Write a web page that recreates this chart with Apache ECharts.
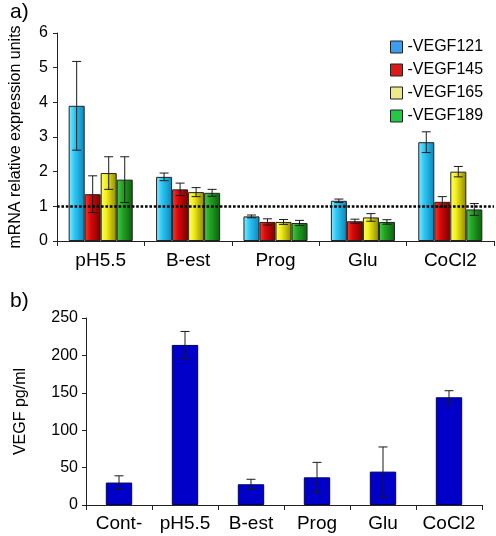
<!DOCTYPE html>
<html>
<head>
<meta charset="utf-8">
<script src="https://cdn.jsdelivr.net/npm/echarts@6/dist/echarts.min.js"></script>
<style>
html,body{margin:0;padding:0;background:#fff;}
#chart{width:496px;height:536px;}
</style>
</head>
<body>
<div id="chart"></div>
<script>
// ---- Panel a data ----
var categoriesA = ['pH5.5', 'B-est', 'Prog', 'Glu', 'CoCl2'];
var seriesNamesA = ['-VEGF121', '-VEGF145', '-VEGF165', '-VEGF189'];
var vegf121 = [3.9, 1.85, 0.71, 1.16, 2.85];
var vegf121Err = [1.28, 0.11, 0.04, 0.05, 0.30];
var vegf145 = [1.35, 1.49, 0.55, 0.57, 1.13];
var vegf145Err = [0.53, 0.18, 0.09, 0.06, 0.15];
var vegf165 = [1.96, 1.41, 0.55, 0.68, 2.0];
var vegf165Err = [0.47, 0.13, 0.07, 0.11, 0.15];
var vegf189 = [1.77, 1.39, 0.52, 0.55, 0.91];
var vegf189Err = [0.66, 0.10, 0.075, 0.065, 0.17];
var yTicksA = [0, 1, 2, 3, 4, 5, 6];
var referenceLevel = 1;

// ---- Panel b data ----
var categoriesB = ['Cont-', 'pH5.5', 'B-est', 'Prog', 'Glu', 'CoCl2'];
var vegfB = [30, 214, 27.7, 37, 44.6, 144];
var vegfBErr = [9, 18, 6.7, 20, 33, 8.8];
var yTicksB = [0, 50, 100, 150, 200, 250];

var FONT = '"Liberation Sans", Arial, sans-serif';
var valsA = [vegf121, vegf145, vegf165, vegf189];
var errsA = [vegf121Err, vegf145Err, vegf165Err, vegf189Err];
var gapA = 0.267;

function grad(c1, c2, c3) {
  return new echarts.graphic.LinearGradient(0, 0, 1, 0, [
    {offset: 0, color: c1}, {offset: 0.35, color: c2}, {offset: 1, color: c3}
  ]);
}
var fillsA = [
  grad('#8EEBFF', '#2FC8F5', '#0A84B8'),
  grad('#FF3A2A', '#D80A0A', '#7A0000'),
  grad('#FFFF6A', '#F2EE1A', '#8C8600'),
  grad('#4CC94C', '#23A523', '#0E5E0E')
];
var legendColors = ['#3C9CF0', '#DD1A1A', '#EDEA8A', '#22C846'];

function errRenderer(offsetIndex, groupCount, gap) {
  return function (params, api) {
    var xi = api.value(0), v = api.value(1), e = api.value(2);
    var top = api.coord([xi, v + e]);
    var bot = api.coord([xi, v - e]);
    var catW = api.size([1, 0])[0];
    var barW = catW * (1 - gap) / groupCount;
    var cx = top[0] + (offsetIndex - (groupCount - 1) / 2) * barW;
    var hw = 4.5;
    var st = {stroke: '#1a1a1a', lineWidth: 1};
    return {
      type: 'group',
      children: [
        {type: 'line', shape: {x1: cx, y1: top[1], x2: cx, y2: bot[1]}, style: st},
        {type: 'line', shape: {x1: cx - hw, y1: top[1], x2: cx + hw, y2: top[1]}, style: st},
        {type: 'line', shape: {x1: cx - hw, y1: bot[1], x2: cx + hw, y2: bot[1]}, style: st}
      ]
    };
  };
}

var series = [];
for (var k = 0; k < 4; k++) {
  series.push({
    name: seriesNamesA[k], type: 'bar', xAxisIndex: 0, yAxisIndex: 0,
    data: valsA[k], barGap: '0%', barCategoryGap: (gapA * 100) + '%',
    itemStyle: {color: fillsA[k], borderColor: '#222', borderWidth: 1},
    z: 2
  });
}
for (var k2 = 0; k2 < 4; k2++) {
  series.push({
    type: 'custom', xAxisIndex: 0, yAxisIndex: 0, z: 4, silent: true,
    renderItem: errRenderer(k2, 4, gapA),
    data: valsA[k2].map(function (v, i) { return [i, v, errsA[this][i]]; }, k2)
  });
}
// reference line at 1
series.push({
  type: 'custom', xAxisIndex: 0, yAxisIndex: 0, z: 6, silent: true,
  renderItem: function () { return {type: 'group', children: []}; },
  data: [],
  markLine: {
    silent: true, symbol: ['none', 'none'], label: {show: false},
    lineStyle: {color: '#000', width: 2.6, type: [2.6, 1.8]},
    data: [{yAxis: referenceLevel}],
    z: 6
  }
});
// panel b
series.push({
  type: 'bar', xAxisIndex: 1, yAxisIndex: 1, data: vegfB,
  barCategoryGap: '60%',
  itemStyle: {color: '#0000C8', borderColor: '#000060', borderWidth: 1}
});
series.push({
  type: 'custom', xAxisIndex: 1, yAxisIndex: 1, z: 4, silent: true,
  renderItem: errRenderer(0, 1, 0.6),
  data: vegfB.map(function (v, i) { return [i, v, vegfBErr[i]]; })
});

var axisLineStyle = {color: '#222', width: 1};

var option = {
  backgroundColor: '#fff',
  animation: false,
  textStyle: {fontFamily: FONT, color: '#000'},
  title: [
    {text: 'a)', left: 5, top: -3, textStyle: {fontFamily: FONT, fontSize: 21, fontWeight: 'normal', color: '#000'}},
    {text: 'b)', left: 5, top: 286, textStyle: {fontFamily: FONT, fontSize: 21, fontWeight: 'normal', color: '#000'}}
  ],
  legend: {
    orient: 'vertical', left: 385, top: 34, itemWidth: 12, itemHeight: 12, itemGap: 7,
    textStyle: {fontFamily: FONT, fontSize: 16, color: '#000'},
    data: seriesNamesA.map(function (n, i) {
      return {name: n, icon: 'rect', itemStyle: {color: legendColors[i], borderColor: '#222', borderWidth: 1}};
    })
  },
  grid: [
    {left: 45, top: 33, width: 449, height: 208},
    {left: 86, top: 318, width: 396, height: 187}
  ],
  xAxis: [
    {type: 'category', gridIndex: 0, data: categoriesA,
     axisLine: {lineStyle: axisLineStyle}, axisTick: {show: true, length: 5, lineStyle: axisLineStyle},
     axisLabel: {fontFamily: FONT, fontSize: 19, color: '#000', margin: 10, interval: 0}},
    {type: 'category', gridIndex: 1, data: categoriesB,
     axisLine: {lineStyle: axisLineStyle}, axisTick: {show: true, length: 5, lineStyle: axisLineStyle},
     axisLabel: {fontFamily: FONT, fontSize: 19, color: '#000', margin: 9, interval: 0}}
  ],
  yAxis: [
    {type: 'value', gridIndex: 0, min: yTicksA[0], max: yTicksA[yTicksA.length - 1], interval: 1,
     name: 'mRNA relative expression units', nameLocation: 'middle', nameGap: 33, nameRotate: 90,
     nameTextStyle: {fontFamily: FONT, fontSize: 16, color: '#000'},
     axisLine: {show: true, lineStyle: axisLineStyle}, axisTick: {show: true, length: 4, lineStyle: axisLineStyle},
     splitLine: {show: false},
     axisLabel: {fontFamily: FONT, fontSize: 16, color: '#000', margin: 9}},
    {type: 'value', gridIndex: 1, min: yTicksB[0], max: yTicksB[yTicksB.length - 1], interval: 50,
     name: 'VEGF pg/ml', nameLocation: 'middle', nameGap: 57, nameRotate: 90,
     nameTextStyle: {fontFamily: FONT, fontSize: 16, color: '#000'},
     axisLine: {show: true, lineStyle: axisLineStyle}, axisTick: {show: true, length: 4, lineStyle: axisLineStyle},
     splitLine: {show: false},
     axisLabel: {fontFamily: FONT, fontSize: 16, color: '#000', margin: 8}}
  ],
  series: series
};

var chart = echarts.init(document.getElementById('chart'), null, {renderer: 'canvas'});
chart.setOption(option);
</script>
</body>
</html>
